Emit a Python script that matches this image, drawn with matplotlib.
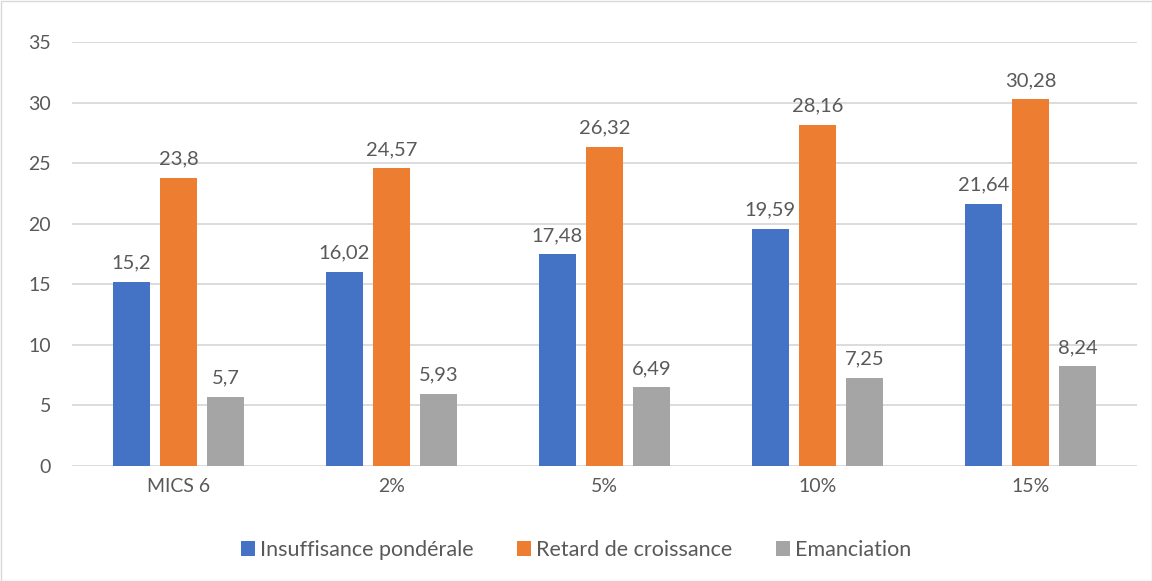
import matplotlib
matplotlib.use("Agg")
import matplotlib.pyplot as plt
import numpy as np

plt.rcParams['font.family'] = ['Lato', 'DejaVu Sans']

categories = ["MICS 6", "2%", "5%", "10%", "15%"]
series_names = ["Insuffisance pondérale", "Retard de croissance", "Emanciation"]
insuffisance = [15.2, 16.02, 17.48, 19.59, 21.64]
retard = [23.8, 24.57, 26.32, 28.16, 30.28]
emanciation = [5.7, 5.93, 6.49, 7.25, 8.24]
colors = ["#4472C4", "#ED7D31", "#A5A5A5"]
yticks = [0, 5, 10, 15, 20, 25, 30, 35]

fig = plt.figure(figsize=(11.52, 5.81), dpi=100)
ax = fig.add_axes([72/1152, 1-466/581, (1137-72)/1152, (466-42)/581])

x = np.arange(len(categories))
width = 0.174
pitch = 0.222
text_color = "#595959"
for i, (vals, name, c) in enumerate(zip([insuffisance, retard, emanciation], series_names, colors)):
    pos = x + (i - 1) * pitch
    ax.bar(pos, vals, width, color=c, label=name, zorder=3)
    for p, v in zip(pos, vals):
        ax.text(p, v + 0.85, f"{v:g}".replace(".", ","), ha="center", va="bottom",
                fontsize=14.5, color=text_color)

ax.set_xlim(-0.5, len(categories) - 0.5)
ax.set_ylim(0, 35)
ax.set_yticks(yticks)
ax.set_yticklabels([str(t) for t in yticks], fontsize=14, color=text_color)
ax.set_xticks(x)
ax.set_xticklabels(categories, fontsize=14, color=text_color)
ax.tick_params(axis="both", length=0)
ax.tick_params(axis="x", pad=9)
ax.tick_params(axis="y", pad=15)
ax.grid(axis="y", color="#D9D9D9", linewidth=1.3, zorder=0)
for s in ax.spines.values():
    s.set_visible(False)

leg = fig.legend(loc="center", bbox_to_anchor=(0.5, 1-550/581), ncol=3, frameon=False,
                 fontsize=15.5, handlelength=0.65, handleheight=0.65, handletextpad=0.25,
                 columnspacing=2.0)
for t in leg.get_texts():
    t.set_color(text_color)

border = plt.Rectangle((0.5/1152, 0.5/581), 1-1/1152, 1-1/581, transform=fig.transFigure,
                       fill=False, edgecolor="#D9D9D9", linewidth=1)
fig.patches.append(border)

fig.savefig("out.png", dpi=100)
